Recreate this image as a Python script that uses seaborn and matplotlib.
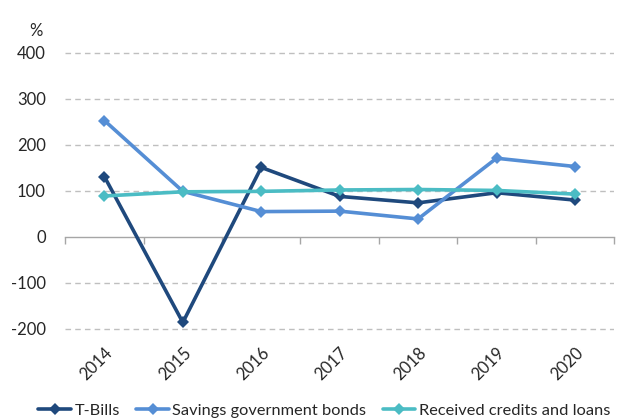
import pandas as pd
import numpy as np
import matplotlib
matplotlib.use("Agg")
import matplotlib.pyplot as plt
import seaborn as sns

# ==========================
#  Datos
# ==========================
years = ["2014", "2015", "2016", "2017", "2018", "2019", "2020"]
t_bills = [131, -186, 151, 88, 74, 96, 80]
savings_bonds = [253, 99, 55, 56, 39, 171, 153]
credits_loans = [89, 98, 99, 102, 103, 101, 93]

series_names = ["T-Bills", "Savings government bonds", "Received credits and loans"]
colors = ["#1F497D", "#558ED5", "#4BBCC4"]

df = pd.DataFrame({
    "idx": list(range(len(years))) * 3,
    "value": t_bills + savings_bonds + credits_loans,
    "series": [s for s in series_names for _ in years],
})

# ==========================
#  Estilo
# ==========================
sns.set_style("white")
plt.rcParams["font.family"] = ["Lato", "DejaVu Sans"]

fig = plt.figure(figsize=(6.21, 4.20), dpi=100)
ax = fig.add_axes([0.105, 0.206, 0.884, 0.679])

sns.lineplot(data=df, x="idx", y="value", hue="series", hue_order=series_names,
             palette=colors, marker="D", markersize=6, markeredgewidth=0,
             linewidth=2.6, ax=ax, legend=True)

ax.set_xlim(-0.5, len(years) - 0.5)
ax.set_ylim(-210, 410)
ax.set_yticks([-200, -100, 0, 100, 200, 300, 400])
ax.set_yticklabels(["-200", "-100", "0", "100", "200", "300", "400"], fontsize=12)
ax.tick_params(axis="y", length=0, pad=14)

ax.set_xticks(range(len(years)))
ax.set_xticklabels(years, rotation=45, ha="right", rotation_mode="anchor", fontsize=12)
ax.tick_params(axis="x", length=0, pad=8)
ax.set_xlabel("")
ax.set_ylabel("")

for s in ax.spines.values():
    s.set_visible(False)

# lineas de cuadricula punteadas (excepto el cero)
for v in [-200, -100, 100, 200, 300, 400]:
    ax.axhline(v, color="#BFBFBF", linewidth=1, linestyle=(0, (4, 3)), zorder=0)

# eje en cero con marcas entre categorias
ax2 = ax.twiny()
ax2.set_xlim(ax.get_xlim())
for name, s in ax2.spines.items():
    s.set_visible(name == "bottom")
ax2.spines["bottom"].set_position(("data", 0))
ax2.spines["bottom"].set_color("#A6A6A6")
ax2.spines["bottom"].set_linewidth(1)
ax2.xaxis.set_ticks_position("bottom")
ax2.set_xticks(np.arange(-0.5, len(years), 1.0))
ax2.set_xticklabels([])
ax2.tick_params(axis="x", length=5, color="#A6A6A6", width=1, direction="out")
ax2.set_zorder(0)
ax.set_zorder(1)
ax.patch.set_visible(False)

fig.text(0.058, 0.925, "%", fontsize=12, ha="center", va="center")

handles, labels = ax.get_legend_handles_labels()
ax.get_legend().remove()
fig.legend(handles, labels, loc="lower center", bbox_to_anchor=(0.522, -0.03),
           ncol=3, frameon=False, fontsize=11.8, handlelength=2.0,
           handletextpad=0.2, columnspacing=1.0)

fig.savefig("out.png", dpi=100)
